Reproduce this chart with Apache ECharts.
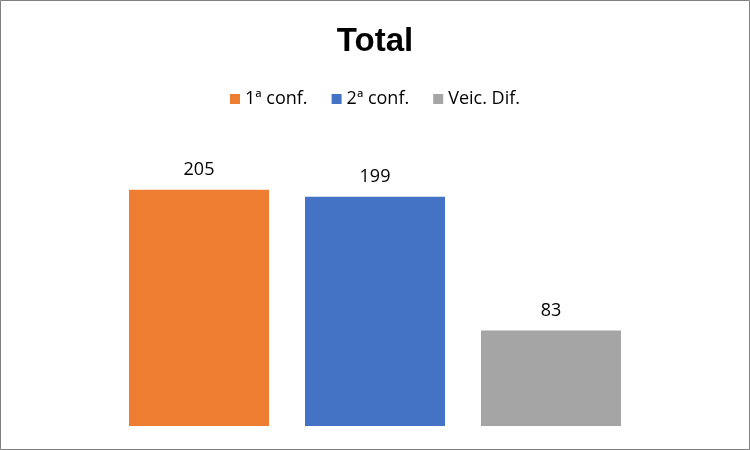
<!DOCTYPE html>
<html>
<head>
<meta charset="utf-8">
<script src="https://cdn.jsdelivr.net/npm/echarts@6/dist/echarts.min.js"></script>
<style>
html,body{margin:0;padding:0;background:#fff;}
#chart{width:750px;height:450px;}
</style>
</head>
<body>
<div id="chart"></div>
<script>
const titleText = 'Total';
const seriesNames = ['1ª conf.', '2ª conf.', 'Veic. Dif.'];
const seriesValues = [205, 199, 83];
const seriesColors = ['#ED7D31', '#4472C4', '#A5A5A5'];
const categories = ['Total'];

const chart = echarts.init(document.getElementById('chart'));
const font = 'Open Sans';
chart.setOption({
  animation: false,
  backgroundColor: '#ffffff',
  title: {
    text: titleText,
    left: 'center',
    top: 20,
    textStyle: { fontFamily: 'Liberation Sans', fontWeight: 'bold', fontSize: 33, color: '#000' }
  },
  legend: {
    top: 85,
    left: 'center',
    itemWidth: 10,
    itemHeight: 10,
    itemGap: 24,
    icon: 'rect',
    textStyle: { fontFamily: font, fontSize: 18, color: '#000' },
    data: seriesNames
  },
  graphic: [{
    type: 'rect',
    shape: { x: 0.5, y: 0.5, width: 749, height: 449 },
    style: { fill: 'none', stroke: '#808080', lineWidth: 1 },
    silent: true,
    z: 100
  }],
  grid: { left: 30, right: 30, top: 138, bottom: 24 },
  xAxis: {
    type: 'category',
    data: categories,
    axisLine: { show: false },
    axisTick: { show: false },
    axisLabel: { show: false }
  },
  yAxis: {
    type: 'value',
    min: 0,
    max: 250,
    show: false,
    splitLine: { show: false }
  },
  series: seriesNames.map((name, i) => ({
    name: name,
    type: 'bar',
    data: [seriesValues[i]],
    barWidth: 140,
    barGap: '25.7%',
    itemStyle: { color: seriesColors[i] },
    label: {
      show: true,
      position: 'top',
      distance: 11,
      fontFamily: font,
      fontSize: 18,
      color: '#000'
    }
  }))
});
</script>
</body>
</html>
